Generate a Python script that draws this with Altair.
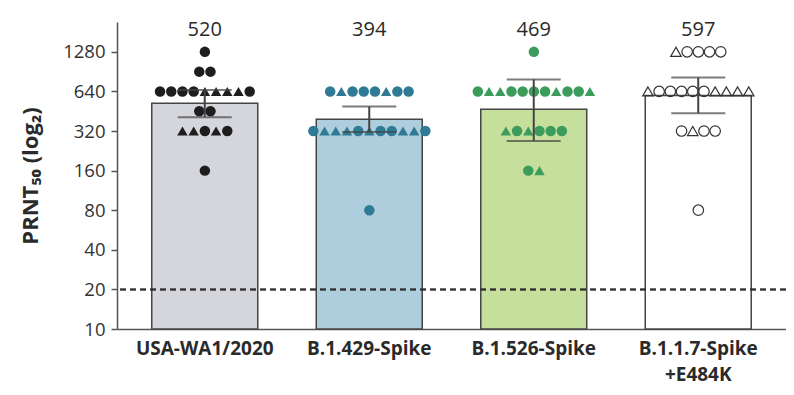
import altair as alt
import pandas as pd

# ---- data ----
groups = ["USA-WA1/2020", "B.1.429-Spike", "B.1.526-Spike", "B.1.1.7-Spike\n+E484K"]
gmt = [520, 394, 469, 597]
err_lo = [408, 315, 269, 437]
err_hi = [655, 492, 790, 815]
bar_colors = ["#d5d6db", "#aecddd", "#c6df9c", "#ffffff"]
dot_colors = ["#1e1e1e", "#2f7a94", "#3c9c5c", "#333333"]

wa1_values = [1280, 905, 905, 640, 640, 640, 640, 640, 640, 640, 640, 640,
              453, 453, 320, 320, 320, 320, 320, 160]
wa1_shapes = ["c", "c", "c", "c", "c", "c", "c", "t", "t", "t", "t", "c",
              "c", "c", "t", "t", "c", "t", "c", "c"]

b429_values = [640, 640, 640, 640, 640, 640, 640, 640,
               320, 320, 320, 320, 320, 320, 320, 320, 320, 320, 320, 80]
b429_shapes = ["c", "t", "c", "c", "c", "t", "c", "c",
               "c", "t", "t", "t", "c", "t", "c", "c", "t", "t", "c", "c"]

b526_values = [1280, 640, 640, 640, 640, 640, 640, 640, 640, 640, 640, 640,
               320, 320, 320, 320, 320, 320, 160, 160]
b526_shapes = ["c", "c", "t", "t", "c", "c", "c", "c", "t", "c", "c", "t",
               "t", "c", "t", "c", "c", "c", "c", "t"]

b117_values = [1280, 1280, 1280, 1280, 1280, 640, 640, 640, 640, 640, 640, 640,
               640, 640, 640, 320, 320, 320, 320, 80]
b117_shapes = ["t", "c", "c", "c", "c", "t", "c", "c", "c", "c", "c", "t",
               "t", "t", "t", "c", "t", "c", "c", "c"]

y_ticks = [10, 20, 40, 80, 160, 320, 640, 1280]
threshold = 20

# ---- tables ----
bars_df = pd.DataFrame({"group": groups, "gmt": gmt, "lo": err_lo, "hi": err_hi})
rows = []
for g, vals, shps in zip(groups, [wa1_values, b429_values, b526_values, b117_values],
                         [wa1_shapes, b429_shapes, b526_shapes, b117_shapes]):
    for i, (v, s) in enumerate(zip(vals, shps)):
        rows.append({"group": g, "value": v, "shape": s, "idx": i,
                     "open": g == groups[3]})
pts_df = pd.DataFrame(rows)

FONT = "Open Sans"
PW, PH = 669, 307
BW = 106

xscale = alt.Scale(domain=groups, paddingInner=0.357, paddingOuter=0.212)
yscale = alt.Scale(type="log", base=2, domain=[10, 2158], nice=False)

x_enc = alt.X("group:N", sort=groups, scale=xscale,
              axis=alt.Axis(title=None, labelAngle=0, ticks=False,
                            labelExpr="split(datum.label, '\\n')",
                            labelFont=FONT, labelFontSize=19, labelFontWeight="bold",
                            labelColor="#2a2a2a", labelPadding=10, labelLimit=300,
                            domainColor="#555555", domainWidth=1.5,
                            labelLineHeight=26))
y_axis = alt.Axis(title="PRNT₅₀ (log₂)", values=y_ticks, format="d", grid=False,
                  tickSize=6, tickColor="#555555", tickWidth=1.5,
                  domainColor="#555555", domainWidth=1.5,
                  labelFont=FONT, labelFontSize=18.5, labelColor="#333333", labelPadding=6,
                  titleFont=FONT, titleFontSize=22, titleFontWeight="bold",
                  titleColor="#2a2a2a", titlePadding=20)

bars = alt.Chart(bars_df).mark_bar(stroke="#454545", strokeWidth=1.5, width=BW).encode(
    x=x_enc,
    y=alt.Y("gmt:Q", scale=yscale, axis=y_axis),
    y2=alt.datum(10),
    fill=alt.Fill("group:N", scale=alt.Scale(domain=groups, range=bar_colors), legend=None),
)

thr = alt.Chart(bars_df).mark_rule(color="#333333", strokeWidth=1.5, strokeDash=[6, 4]).encode(
    y=alt.datum(threshold)
)

pts_base = alt.Chart(pts_df).transform_window(
    rank="row_number()", groupby=["group", "value"], sort=[alt.SortField("idx")]
).transform_joinaggregate(
    n="count()", groupby=["group", "value"]
).transform_calculate(
    off="datum.rank - 1 - (datum.n - 1) / 2"
)

offset_enc = alt.XOffset("off:Q", scale=alt.Scale(domain=[-4.73, 4.73], range=[0, BW]))
shape_enc = alt.Shape("shape:N", scale=alt.Scale(domain=["c", "t"],
                                                 range=["circle", "triangle-up"]), legend=None)

pts_filled = pts_base.transform_filter("!datum.open").mark_point(
    filled=True, size=110, opacity=1).encode(
    x=alt.X("group:N", sort=groups, scale=xscale),
    xOffset=offset_enc,
    y=alt.Y("value:Q", scale=yscale),
    shape=shape_enc,
    color=alt.Color("group:N", scale=alt.Scale(domain=groups, range=dot_colors), legend=None),
)

pts_open = pts_base.transform_filter("datum.open").mark_point(
    filled=False, size=110, opacity=1, strokeWidth=1.2, color="#333333").encode(
    x=alt.X("group:N", sort=groups, scale=xscale),
    xOffset=offset_enc,
    y=alt.Y("value:Q", scale=yscale),
    shape=shape_enc,
)

err_rule = alt.Chart(bars_df).mark_rule(color="#444444", strokeWidth=2).encode(
    x=alt.X("group:N", sort=groups, scale=xscale),
    y=alt.Y("lo:Q", scale=yscale), y2="hi:Q")
cap_lo = alt.Chart(bars_df).mark_tick(color="#444444", size=54, thickness=2).encode(
    x=alt.X("group:N", sort=groups, scale=xscale), y=alt.Y("lo:Q", scale=yscale))
cap_hi = alt.Chart(bars_df).mark_tick(color="#444444", size=54, thickness=2).encode(
    x=alt.X("group:N", sort=groups, scale=xscale), y=alt.Y("hi:Q", scale=yscale))

labels = alt.Chart(bars_df).mark_text(font=FONT, fontSize=20, color="#2a2a2a",
                                      baseline="middle").encode(
    x=alt.X("group:N", sort=groups, scale=xscale),
    y=alt.value(8),
    text=alt.Text("gmt:Q", format="d"),
)

chart = alt.layer(bars, thr, pts_filled, pts_open, err_rule, cap_lo, cap_hi, labels).properties(
    width=PW, height=PH,
    autosize=alt.AutoSizeParams(type="none"),
    padding={"left": 109, "top": 14, "right": 0, "bottom": 58},
    background="white",
).configure_view(stroke=None)

chart.save("out.html", embed_options={"renderer": "svg", "actions": False})
